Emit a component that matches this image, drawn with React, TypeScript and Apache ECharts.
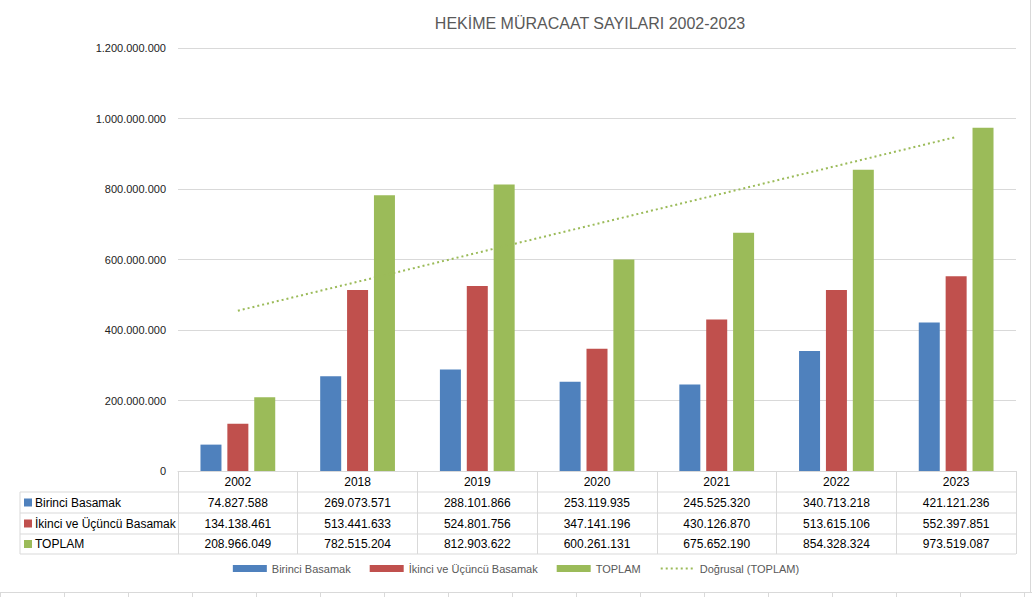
import React, { useEffect, useRef } from "react";
import * as echarts from "echarts";

const TITLE = "HEKİME MÜRACAAT SAYILARI 2002-2023";
const YEARS = ["2002", "2018", "2019", "2020", "2021", "2022", "2023"];
const BIRINCI = [74827588, 269073571, 288101866, 253119935, 245525320, 340713218, 421121236];
const IKINCI = [134138461, 513441633, 524801756, 347141196, 430126870, 513615106, 552397851];
const TOPLAM = [208966049, 782515204, 812903622, 600261131, 675652190, 854328324, 973519087];
const TREND_ENDS = [454700000, 947600000];
const SERIES_NAMES = ["Birinci Basamak", "İkinci ve Üçüncü Basamak", "TOPLAM"];
const TREND_NAME = "Doğrusal (TOPLAM)";
const COLORS = ["#4f81bd", "#c0504d", "#9bbb59"];
const Y_MAX = 1200000000;
const Y_STEP = 200000000;

const W = 1032;
const H = 597;
const GRID_LEFT = 178;
const GRID_RIGHT = 16;
const GRID_TOP = 48;
const GRID_BOTTOM = 126;
const TABLE_LEFT = 20;
const ROW_LINES = [492, 513, 534, 554];
const FONT = "'Liberation Sans', Arial, sans-serif";
const LINE_COLOR = "#d9d9d9";

const fmt = (n: number) => String(n).replace(/\B(?=(\d{3})+(?!\d))/g, ".");

export default function App() {
  const ref = useRef<HTMLDivElement>(null);
  useEffect(() => {
    if (!ref.current) return;
    const chart = echarts.init(ref.current, undefined, { renderer: "svg" });
    const axisY = H - GRID_BOTTOM;
    const plotRight = W - GRID_RIGHT;
    const colW = (plotRight - GRID_LEFT) / YEARS.length;
    const rows = [BIRINCI, IKINCI, TOPLAM];
    const graphics: any[] = [];

    ROW_LINES.forEach((y) => {
      graphics.push({
        type: "line",
        shape: { x1: TABLE_LEFT, y1: y, x2: plotRight, y2: y },
        style: { stroke: LINE_COLOR, lineWidth: 1 },
        silent: true,
      });
    });
    graphics.push({
      type: "line",
      shape: { x1: TABLE_LEFT, y1: ROW_LINES[0], x2: TABLE_LEFT, y2: ROW_LINES[3] },
      style: { stroke: LINE_COLOR, lineWidth: 1 },
      silent: true,
    });
    rows.forEach((vals, r) => {
      const yc = (ROW_LINES[r] + ROW_LINES[r + 1]) / 2;
      graphics.push({
        type: "rect",
        shape: { x: TABLE_LEFT + 4, y: yc - 4, width: 8, height: 8 },
        style: { fill: COLORS[r] },
        silent: true,
      });
      graphics.push({
        type: "text",
        x: TABLE_LEFT + 15,
        y: yc,
        style: {
          text: SERIES_NAMES[r],
          font: `12px ${FONT}`,
          fill: "#000",
          textVerticalAlign: "middle",
        },
        silent: true,
      });
      vals.forEach((v, i) => {
        graphics.push({
          type: "text",
          x: GRID_LEFT + (i + 0.5) * colW,
          y: yc,
          style: {
            text: fmt(v),
            font: `12px ${FONT}`,
            fill: "#000",
            textAlign: "center",
            textVerticalAlign: "middle",
          },
          silent: true,
        });
      });
    });
    graphics.push({
      type: "text",
      x: 590,
      y: 23,
      style: {
        text: TITLE,
        font: `16px ${FONT}`,
        fill: "#595959",
        textAlign: "center",
        textVerticalAlign: "middle",
      },
      silent: true,
    });
    graphics.push({
      type: "line",
      shape: { x1: W - 1.5, y1: 0, x2: W - 1.5, y2: 592 },
      style: { stroke: LINE_COLOR, lineWidth: 1 },
      silent: true,
    });
    graphics.push({
      type: "line",
      shape: { x1: 0, y1: 592.5, x2: W, y2: 592.5 },
      style: { stroke: LINE_COLOR, lineWidth: 1 },
      silent: true,
    });
    for (let x = 0; x <= W; x += 64) {
      graphics.push({
        type: "line",
        shape: { x1: x + 0.5, y1: 592, x2: x + 0.5, y2: H },
        style: { stroke: LINE_COLOR, lineWidth: 1 },
        silent: true,
      });
    }

    const trendData = YEARS.map((_, i) =>
      i === 0 ? TREND_ENDS[0] : i === YEARS.length - 1 ? TREND_ENDS[1] : null
    );

    chart.setOption({
      animation: false,
      backgroundColor: "#fff",
      textStyle: { fontFamily: FONT },
      grid: { left: GRID_LEFT, right: GRID_RIGHT, top: GRID_TOP, bottom: GRID_BOTTOM },
      legend: {
        bottom: 18,
        left: "center",
        itemWidth: 34,
        itemHeight: 7,
        itemGap: 19,
        textStyle: { color: "#595959", fontSize: 11, fontFamily: FONT },
        data: [
          { name: SERIES_NAMES[0], icon: "rect" },
          { name: SERIES_NAMES[1], icon: "rect" },
          { name: SERIES_NAMES[2], icon: "rect" },
          { name: TREND_NAME, itemStyle: { opacity: 0 } },
        ],
      },
      xAxis: {
        type: "category",
        data: YEARS,
        axisLine: { show: true, lineStyle: { color: LINE_COLOR } },
        axisTick: {
          show: true,
          length: ROW_LINES[3] - axisY,
          lineStyle: { color: LINE_COLOR },
        },
        axisLabel: { color: "#000", fontSize: 12, margin: 5, fontFamily: FONT },
      },
      yAxis: {
        type: "value",
        min: 0,
        max: Y_MAX,
        interval: Y_STEP,
        axisLine: { show: false },
        axisTick: { show: false },
        splitLine: { lineStyle: { color: LINE_COLOR } },
        axisLabel: {
          color: "#222",
          fontSize: 11,
          margin: 12,
          fontFamily: FONT,
          formatter: (v: number) => fmt(v),
        },
      },
      series: [
        ...[BIRINCI, IKINCI, TOPLAM].map((d, i) => ({
          name: SERIES_NAMES[i],
          type: "bar",
          data: d,
          barWidth: 21,
          barGap: "28%",
          itemStyle: { color: COLORS[i] },
        })),
        {
          name: TREND_NAME,
          type: "line",
          data: trendData,
          connectNulls: true,
          symbol: "none",
          itemStyle: { color: "#9bbb59" },
          lineStyle: { color: "#9bbb59", width: 2, type: [2, 3] },
        },
      ],
      graphic: graphics,
    });
    return () => chart.dispose();
  }, []);
  return (
    <div
      ref={ref}
      style={{ position: "fixed", left: 0, top: 0, width: W, height: H, background: "#fff" }}
    />
  );
}
